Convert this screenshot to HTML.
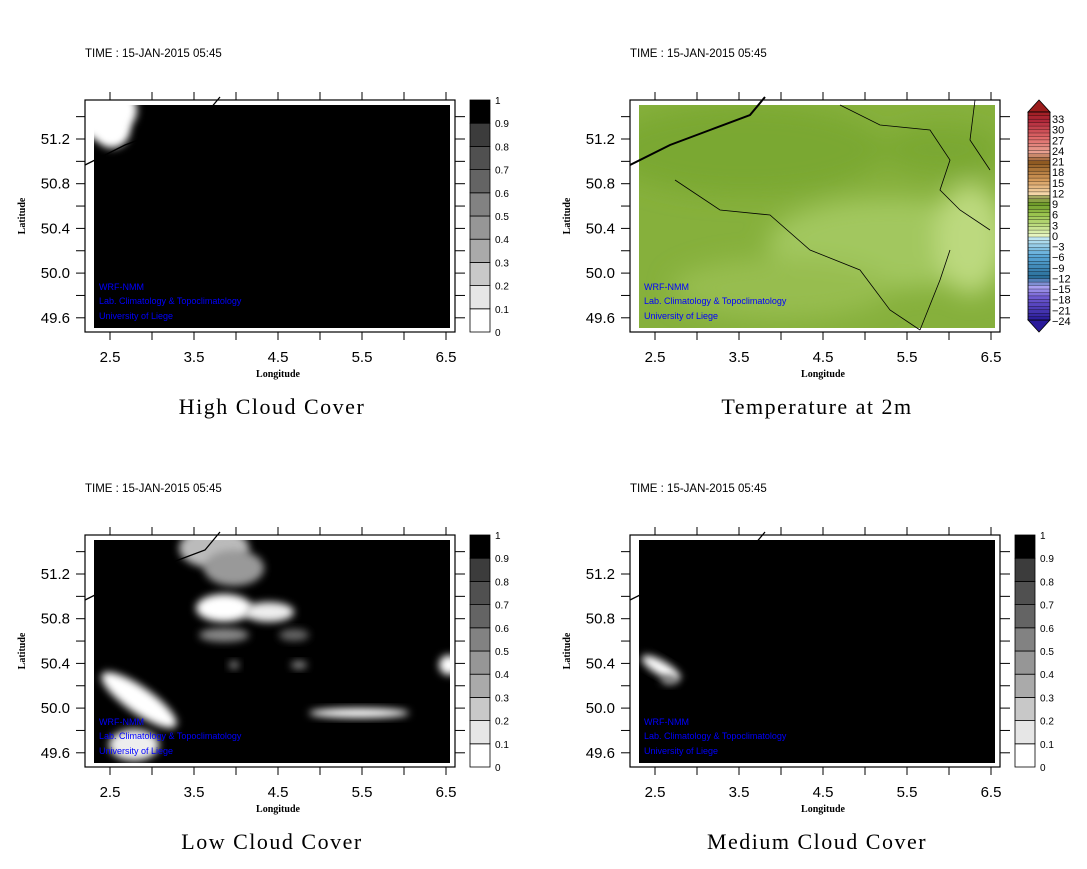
<!DOCTYPE html>
<html><head><meta charset="utf-8">
<style>
html,body{margin:0;padding:0;background:#fff;}
svg{display:block;}
text{font-family:"Liberation Sans",sans-serif;}
</style></head>
<body>
<svg id="s" width="1087" height="869" xmlns="http://www.w3.org/2000/svg">
<defs>
<filter id="bl" x="-50%" y="-50%" width="200%" height="200%"><feGaussianBlur stdDeviation="4"/></filter>
<filter id="bl3" x="-50%" y="-50%" width="200%" height="200%"><feGaussianBlur stdDeviation="12"/></filter>
</defs>
<g id="root"></g>
</svg>
<script>
var root=document.getElementById('root');
var out='';
function panel(dx,dy,title,kind){
  var L=85+dx,R=455+dx,T=100+dy,B=332+dy;
  out+='<text x="'+L+'" y="'+(57+dy)+'" font-size="11.5">TIME : 15-JAN-2015 05:45</text>';
  var dl=L+9,dr=R-5,dt=T+5,db=B-4;
  out+='<svg x="'+dl+'" y="'+dt+'" width="'+(dr-dl)+'" height="'+(db-dt)+'" overflow="hidden">';
  var w=dr-dl,h=db-dt;
  if(kind=='temp'){
    out+='<rect width="'+w+'" height="'+h+'" fill="#86b03c"/>';
    out+='<g filter="url(#bl3)">';
    out+='<ellipse cx="'+(w*0.7)+'" cy="'+(h*0.62)+'" rx="120" ry="45" fill="#a2c75e"/>';
    out+='<ellipse cx="'+(w*0.93)+'" cy="'+(h*0.6)+'" rx="35" ry="55" fill="#bcd97e"/>';
    out+='<ellipse cx="'+(w*0.4)+'" cy="'+(h*0.82)+'" rx="110" ry="30" fill="#97bd50"/>';
    out+='<ellipse cx="'+(w*0.3)+'" cy="'+(h*0.2)+'" rx="140" ry="45" fill="#7aa830"/>';
    out+='<ellipse cx="'+(w*0.85)+'" cy="'+(h*0.2)+'" rx="60" ry="25" fill="#7aa830"/>';
    out+='</g>';
  } else {
    out+='<rect width="'+w+'" height="'+h+'" fill="#000"/>';
    var bl=[];
    if(kind=='high') bl=[[5,5,38,28,'#fff'],[18,25,18,18,'#fff']];
    if(kind=='low') bl=[[120,8,35,20,'#bbb'],[140,28,30,18,'#999'],[130,68,28,14,'#fff'],[175,72,25,10,'#eee'],[130,95,25,7,'#888'],[200,95,15,6,'#666'],
       [45,160,45,13,'#fff',35],[40,205,25,16,'#eee'],[265,173,50,5,'#fff'],[355,125,10,10,'#fff'],[140,125,5,4,'#888'],[205,125,8,4,'#888']];
    if(kind=='med') bl=[[22,128,22,7,'#fff',30],[30,140,8,5,'#888'],[870,125,10,12,'#ddd'],[840,225,3,4,'#aaa']];
    for(var i=0;i<bl.length;i++){var b=bl[i];
      out+='<ellipse cx="'+b[0]+'" cy="'+b[1]+'" rx="'+b[2]+'" ry="'+b[3]+'" fill="'+b[4]+'" filter="url(#bl)"'+(b[5]?' transform="rotate('+b[5]+' '+b[0]+' '+b[1]+')"':'')+'/>';
    }
  }
  out+='</svg>';
  out+='<polyline points="'+(L)+','+(T+65)+' '+(L+40)+','+(T+45)+' '+(L+80)+','+(T+30)+' '+(L+120)+','+(T+15)+' '+(L+135)+','+(T-3)+'" fill="none" stroke="#000" stroke-width="'+(kind=='temp'?2:1.3)+'"/>';
  if(kind=='temp'){
    out+='<polyline points="'+(L+45)+','+(T+80)+' '+(L+90)+','+(T+110)+' '+(L+140)+','+(T+115)+' '+(L+180)+','+(T+150)+' '+(L+230)+','+(T+170)+' '+(L+260)+','+(T+210)+' '+(L+290)+','+(T+230)+'" fill="none" stroke="#000" stroke-width="0.8"/>';
    out+='<polyline points="'+(L+210)+','+(T+5)+' '+(L+250)+','+(T+25)+' '+(L+300)+','+(T+30)+' '+(L+320)+','+(T+60)+' '+(L+310)+','+(T+90)+' '+(L+330)+','+(T+110)+' '+(L+360)+','+(T+130)+'" fill="none" stroke="#000" stroke-width="0.8"/>';
    out+='<polyline points="'+(L+320)+','+(T+150)+' '+(L+310)+','+(T+180)+' '+(L+290)+','+(T+230)+'" fill="none" stroke="#000" stroke-width="0.8"/>';
    out+='<polyline points="'+(L+345)+','+(T+0)+' '+(L+340)+','+(T+40)+' '+(L+360)+','+(T+70)+'" fill="none" stroke="#000" stroke-width="0.8"/>';
  }
  out+='<rect x="'+L+'" y="'+T+'" width="'+(R-L)+'" height="'+(B-T)+'" fill="none" stroke="#000" stroke-width="1.2"/>';
  for(var k=0;k<10;k++){var x=110+dx+k*42; if(x>R)break;
    out+='<line x1="'+x+'" y1="'+(T-8)+'" x2="'+x+'" y2="'+T+'" stroke="#000"/><line x1="'+x+'" y1="'+B+'" x2="'+x+'" y2="'+(B+8)+'" stroke="#000"/>';
    if(k%2==0) out+='<text x="'+x+'" y="'+(B+30)+'" font-size="15" text-anchor="middle">'+(2.5+k/2).toFixed(1)+'</text>';
  }
  for(var k=-1;k<10;k++){var y=139+dy+k*22.35; if(y>B-2)break;
    out+='<line x1="'+(L-9)+'" y1="'+y+'" x2="'+L+'" y2="'+y+'" stroke="#000"/><line x1="'+R+'" y1="'+y+'" x2="'+(R+10)+'" y2="'+y+'" stroke="#000"/>';
    if(k>=0&&k%2==0) out+='<text x="'+(L-15)+'" y="'+(y+5)+'" font-size="15" text-anchor="end">'+(51.2-k*0.2).toFixed(1)+'</text>';
  }
  out+='<text x="'+((L+R)/2+8)+'" y="'+(B+45)+'" font-size="10" font-weight="bold" text-anchor="middle" style="font-family:\'Liberation Serif\',serif">Longitude</text>';
  out+='<text transform="translate('+(L-60)+','+(T+116)+') rotate(-90)" font-size="10" font-weight="bold" text-anchor="middle" style="font-family:\'Liberation Serif\',serif">Latitude</text>';
  out+='<text x="'+((L+R)/2+2)+'" y="'+(B+82)+'" font-size="22" text-anchor="middle" style="font-family:\'Liberation Serif\',serif;letter-spacing:1.5px">'+title+'</text>';
  out+='<g fill="#0000ff" font-size="9"><text x="'+(L+14)+'" y="'+(T+190)+'">WRF-NMM</text><text x="'+(L+14)+'" y="'+(T+204)+'">Lab. Climatology &amp; Topoclimatology</text><text x="'+(L+14)+'" y="'+(T+219)+'">University of Liege</text></g>';
  if(kind=='temp'){
    var cx=1028,cw=22,top=112,bot=320;
    out+='<polygon points="'+cx+','+top+' '+(cx+cw/2)+',100 '+(cx+cw)+','+top+'" fill="#9b1c1c" stroke="#000" stroke-width="0.8"/>';
    out+='<polygon points="'+cx+','+bot+' '+(cx+cw/2)+',332 '+(cx+cw)+','+bot+'" fill="#2a1a9a" stroke="#000" stroke-width="0.8"/>';
    var cols=[[-24,'#2d1f9c'],[-18,'#6e5ad0'],[-15,'#a9a0f0'],[-12,'#2a6e9a'],[-6,'#5aa8d8'],[-1,'#bfe6f2'],[0,'#e6f5c0'],[3,'#bcdc7e'],[6,'#9ac44e'],[9,'#6f9b2a'],[11,'#a4a860'],[12,'#f5d6a8'],[16,'#d49a5a'],[21,'#8f5a22'],[24,'#e8a090'],[28,'#e06a6a'],[33,'#b0283a'],[36,'#9b1c1c']];
    function col(v){for(var i=0;i<cols.length-1;i++){if(v<=cols[i+1][0]){var a=cols[i],b=cols[i+1];var t=(v-a[0])/(b[0]-a[0]);
      function hx(c,j){return parseInt(c.substr(1+2*j,2),16);}
      var r=[0,1,2].map(function(j){return Math.round(hx(a[1],j)+(hx(b[1],j)-hx(a[1],j))*t)});return 'rgb('+r.join(',')+')';}}return cols[cols.length-1][1];}
    var n=60,bh=(bot-top)/n;
    for(var i=0;i<n;i++){var v=-24+i;var y=bot-(i+1)*bh;
      out+='<rect x="'+cx+'" y="'+y+'" width="'+cw+'" height="'+(bh+0.2)+'" fill="'+col(v)+'" stroke="#000" stroke-width="0.3"/>';}
    out+='<rect x="'+cx+'" y="'+top+'" width="'+cw+'" height="'+(bot-top)+'" fill="none" stroke="#000" stroke-width="0.8"/>';
    for(var v=-24;v<=33;v+=3){var y=321-(v+24)/57*202;
      out+='<text x="'+(cx+cw+2)+'" y="'+(y+4)+'" font-size="11">'+(v<0?'\u2212'+(-v):v)+'</text>';}
  } else {
    var cx=470+dx,cw=20,ch=23.2;
    var g=['#fff','#e6e6e6','#c8c8c8','#aaa','#969696','#828282','#646464','#505050','#3c3c3c','#222','#000'];
    for(var i=0;i<10;i++){var y=B-(i+1)*ch;
      out+='<rect x="'+cx+'" y="'+y+'" width="'+cw+'" height="'+ch+'" fill="'+(i==9?'#000':g[i])+'" stroke="#000" stroke-width="0.8"/>';}
    for(var i=0;i<=10;i++){var y=B-i*ch;
      out+='<text x="'+(cx+cw+5)+'" y="'+(y+4)+'" font-size="10">'+(i==0?'0':i==10?'1':(i/10).toFixed(1))+'</text>';}
  }
}
panel(0,0,'High Cloud Cover','high');
panel(545,0,'Temperature at 2m','temp');
panel(0,435,'Low Cloud Cover','low');
panel(545,435,'Medium Cloud Cover','med');
root.innerHTML=out;
</script>
</body></html>
